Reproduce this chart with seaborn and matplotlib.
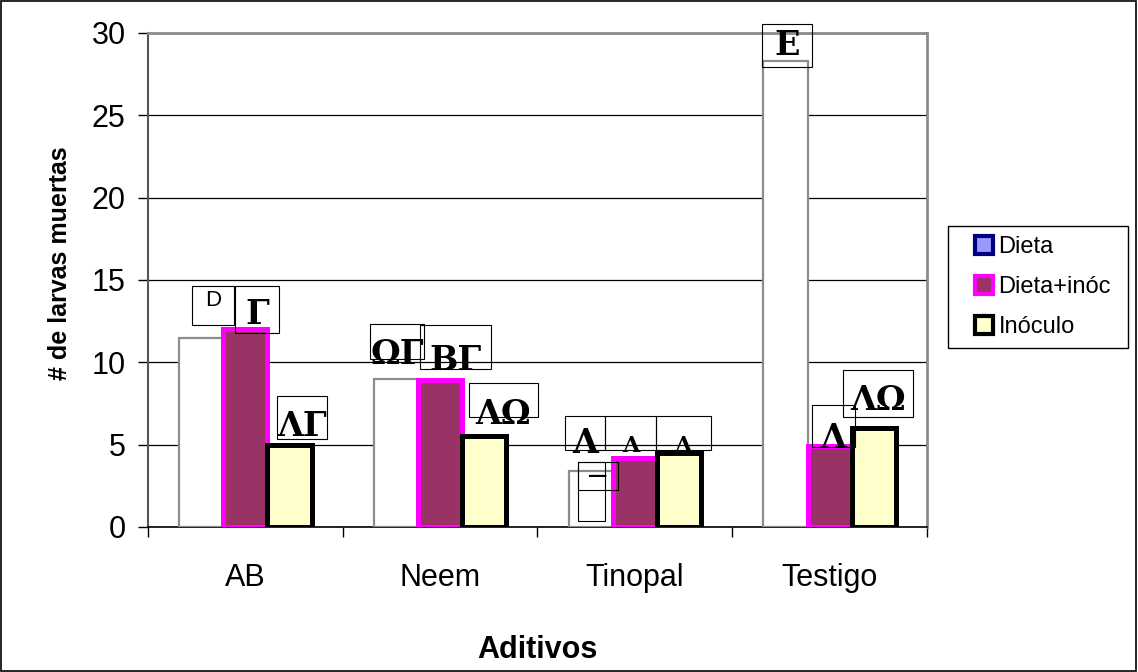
import matplotlib
matplotlib.use("Agg")
import matplotlib.pyplot as plt
import seaborn as sns
import pandas as pd
from matplotlib.lines import Line2D
from matplotlib.patches import Rectangle
from matplotlib.text import Text
from matplotlib.offsetbox import DrawingArea, AnnotationBbox

# Dead larvae per additive and treatment
categories = ["AB", "Neem", "Tinopal", "Testigo"]
series = ["Dieta", "Dieta+inóc", "Inóculo"]
dieta = [11.5, 9.0, 3.4, 28.3]
dieta_inoc = [12.0, 8.9, 4.2, 4.9]
inoculo = [5.0, 5.5, 4.5, 6.0]

# Group letters shown above each bar
labels_dieta = ["D", "ΩΓ", "Λ", "Ε"]
labels_dieta_inoc = ["Γ", "ΒΓ", "Λ", "Λ"]
labels_inoculo = ["ΛΓ", "ΛΩ", "Λ", "ΛΩ"]

df = pd.DataFrame({
    "Aditivo": categories * 3,
    "Serie": [s for s in series for _ in categories],
    "Larvas": dieta + dieta_inoc + inoculo,
})

sns.set_theme(style="white")
plt.rcParams["font.family"] = ["Liberation Sans", "DejaVu Sans"]
for key in ["text.color", "axes.labelcolor", "xtick.color", "ytick.color"]:
    plt.rcParams[key] = "black"

DPI = 100
PT = 72 / DPI  # pixels -> points

fig = plt.figure(figsize=(11.38, 6.72), dpi=DPI)
ax = fig.add_axes([0.130, 0.2158, 0.6846, 0.7351])

sns.barplot(data=df, x="Aditivo", y="Larvas", hue="Serie", order=categories,
            hue_order=series, width=0.68, gap=0, errorbar=None, saturation=1,
            legend=False, ax=ax, zorder=3)

styles = [
    dict(fc="white", ec="#8c8c8c", lw=1.6),
    dict(fc="#993366", ec="#ff00ff", lw=3.6),
    dict(fc="#ffffcc", ec="black", lw=3.6),
]
for cont, st in zip(ax.containers, styles):
    for bar in cont:
        bar.set_facecolor(st["fc"])
        bar.set_edgecolor(st["ec"])
        bar.set_linewidth(st["lw"])


def label_box(x, y, text, w, h, dx, dy, size=22, sans=False, ty=0.45):
    """Boxed letter (clipped to its box) at a pixel offset from a data point."""
    frame = DrawingArea(w * PT, h * PT, 0, 0, clip=False)
    frame.add_artist(Rectangle((0, 0), w * PT, h * PT, fill=False,
                               ec="black", lw=0.8))
    ax.add_artist(AnnotationBbox(frame, (x, y), xybox=(dx * PT, dy * PT),
                                 boxcoords="offset points", frameon=False,
                                 box_alignment=(0.5, 0.5), pad=0, zorder=5,
                                 annotation_clip=False))
    if not text:
        return
    inner = DrawingArea(w * PT, h * PT, 0, 0, clip=True)
    inner.add_artist(Text(w * PT / 2, h * PT * ty, text, ha="center", va="center",
                          fontsize=size,
                          family=["Liberation Sans"] if sans else ["DejaVu Serif"],
                          fontweight="normal" if sans else "bold", color="black"))
    ax.add_artist(AnnotationBbox(inner, (x, y), xybox=(dx * PT, dy * PT),
                                 boxcoords="offset points", frameon=False,
                                 box_alignment=(0.5, 0.5), pad=0, zorder=5,
                                 annotation_clip=False))


label_sets = [labels_dieta, labels_dieta_inoc, labels_inoculo]
# box size (w, h) and centre offset (dx, dy) in pixels from each bar top
box_geom = [
    [(42, 39, 12, 32), (54, 35, 1, 37), (40, 34, -6, 38), (50, 43, 2, 15)],
    [(44, 47, 12, 20), (71, 44, 15, 33), (51, 34, -4, 25), (43, 42, 4, 20)],
    [(50, 43, 13, 27), (69, 34, 19, 36), (55, 34, 4, 20), (70, 47, 4, 35)],
]
glyph_y = [
    [0.62, 0.15, 0.2, 0.5],
    [0.4, 0.2, 0.1, 0.2],
    [0.3, 0.1, 0.1, 0.35],
]
glyph_size = [
    [16, 24, 24, 24],
    [24, 24, 16, 24],
    [24, 24, 16, 24],
]
for cont, labs, geoms, gys, gss in zip(ax.containers, label_sets, box_geom,
                                       glyph_y, glyph_size):
    for bar, lab, (w, h, dx, dy), gy, gs in zip(cont, labs, geoms, gys, gss):
        xc = bar.get_x() + bar.get_width() / 2
        yt = bar.get_height()
        label_box(xc, yt, lab, w, h, dx, dy, size=gs, sans=(lab == "D"), ty=gy)

# Empty label boxes sitting on the Tinopal diet bar
tin = ax.containers[0][2]
tx = tin.get_x() + tin.get_width() / 2
label_box(tx, tin.get_height(), "", 27, 59, 1, -21)
label_box(tx, tin.get_height(), "—", 40, 28, 7, -5, size=14, ty=0.5)

ax.set_ylim(0, 30)
ax.set_xlim(-0.5, 3.5)
ax.set_yticks(range(0, 31, 5))
ax.yaxis.grid(True, color="black", lw=0.9)
ax.set_axisbelow(True)

for side in ["top", "right"]:
    ax.spines[side].set_color("#8c8c8c")
    ax.spines[side].set_linewidth(2)
ax.spines["left"].set_color("#555555")
ax.spines["left"].set_linewidth(1.5)
ax.spines["bottom"].set_color("black")
ax.spines["bottom"].set_linewidth(1.2)

ax.set_xticks(range(len(categories)))
ax.set_xticklabels(categories)
ax.set_xticks([-0.5, 0.5, 1.5, 2.5, 3.5], minor=True)
ax.tick_params(axis="x", which="major", length=0, pad=26, labelsize=22)
ax.tick_params(axis="x", which="minor", length=7, width=1, color="black",
               direction="out", bottom=True)
ax.tick_params(axis="y", length=7, width=1, color="black", direction="out",
               left=True, pad=9, labelsize=22)

ax.set_ylabel("# de larvas muertas", fontsize=18, fontweight="bold")
ax.yaxis.set_label_coords(-0.098, 0.534)
ax.set_xlabel("Aditivos", fontsize=22, fontweight="bold")
ax.xaxis.set_label_coords(0.5, -0.218)

handles = [
    Line2D([], [], marker="s", ls="none", markersize=13, markerfacecolor="#9999ff",
           markeredgecolor="#000080", markeredgewidth=3),
    Line2D([], [], marker="s", ls="none", markersize=13, markerfacecolor="#993366",
           markeredgecolor="#ff00ff", markeredgewidth=3),
    Line2D([], [], marker="s", ls="none", markersize=13, markerfacecolor="#ffffcc",
           markeredgecolor="black", markeredgewidth=3),
]
leg = fig.legend(handles, series, loc="center left",
                 bbox_to_anchor=(954 / 1138, 1 - 287 / 672),
                 frameon=False, fontsize=17, handlelength=2.5,
                 handletextpad=-0.62, labelspacing=0.77, borderpad=0,
                 borderaxespad=0)
# legend frame
fig.patches.append(Rectangle((948 / 1138, 1 - 348 / 672), 180 / 1138, 122 / 672,
                             transform=fig.transFigure, fill=False, ec="black",
                             lw=1))

fig.patches.append(Rectangle((0.0005, 0.001), 0.998, 0.997, transform=fig.transFigure,
                             fill=False, ec="black", lw=1.2))

fig.savefig("out.png", dpi=DPI)
